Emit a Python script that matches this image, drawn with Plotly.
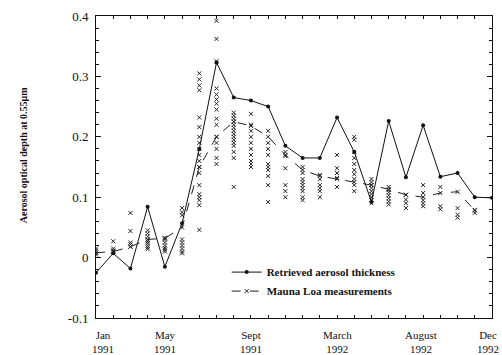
import plotly.graph_objects as go

# Month index 0 = Jan 1991 ... 23 = Dec 1992
months = list(range(24))

retrieved = [-0.025, 0.007, -0.018, 0.084, -0.015, 0.057, 0.18, 0.323, 0.265, 0.26,
             0.25, 0.185, 0.165, 0.165, 0.232, 0.175, 0.092, 0.226, 0.133, 0.219,
             0.134, 0.14, 0.10, 0.099]

mauna_loa_mean_months = list(range(23))
mauna_loa_mean = [0.008, 0.01, 0.018, 0.03, 0.032, 0.05, 0.15, 0.2, 0.225, 0.218,
                  0.2, 0.17, 0.145, 0.135, 0.13, 0.125, 0.12, 0.113, 0.104, 0.1,
                  0.107, 0.109, 0.078]

mauna_loa_points = [
    [0.005, 0.008, 0.012, 0.015],
    [0.027, 0.015, 0.012, 0.01],
    [0.074, 0.044, 0.025, 0.022, 0.018],
    [0.045, 0.04, 0.035, 0.03, 0.027, 0.024, 0.02, 0.017, 0.014],
    [0.033, 0.03, 0.025, 0.02, 0.016, 0.013, 0.01],
    [0.082, 0.075, 0.07, 0.03, 0.025, 0.02, 0.015, 0.01, 0.007],
    [0.305, 0.295, 0.285, 0.277, 0.232, 0.216, 0.2, 0.19, 0.18, 0.17, 0.16, 0.15,
     0.14, 0.12, 0.105, 0.1, 0.095, 0.087, 0.046],
    [0.392, 0.362, 0.325, 0.28, 0.27, 0.262, 0.255, 0.245, 0.23, 0.22, 0.2, 0.19,
     0.18, 0.165, 0.155],
    [0.24, 0.235, 0.23, 0.225, 0.22, 0.215, 0.21, 0.205, 0.2, 0.195, 0.19, 0.185,
     0.175, 0.165, 0.117],
    [0.238, 0.22, 0.21, 0.2, 0.19, 0.18, 0.17, 0.16, 0.155, 0.15],
    [0.21, 0.19, 0.18, 0.17, 0.155, 0.15, 0.145, 0.135, 0.12, 0.092],
    [0.175, 0.168, 0.148, 0.12, 0.11, 0.1],
    [0.15, 0.14, 0.13, 0.125, 0.12, 0.115, 0.11, 0.1, 0.095],
    [0.137, 0.13, 0.12, 0.115, 0.11, 0.1],
    [0.17, 0.148, 0.14, 0.132, 0.117],
    [0.2, 0.195, 0.175, 0.165, 0.155, 0.145, 0.138, 0.13, 0.12, 0.11],
    [0.13, 0.125, 0.12, 0.115, 0.11, 0.105, 0.1, 0.095, 0.09],
    [0.117, 0.112, 0.108, 0.103, 0.098, 0.093, 0.088],
    [0.104, 0.096, 0.09, 0.082],
    [0.12, 0.107, 0.095, 0.09, 0.085],
    [0.117, 0.085, 0.08],
    [0.082, 0.071, 0.066],
    [0.079, 0.074],
]

# label positions in month units
tick_label_pos = [0.4, 4, 9, 14, 18.9, 22.75]
tick_label_text = ["Jan<br>1991", "May<br>1991", "Sept<br>1991", "March<br>1992",
                   "August<br>1992", "Dec<br>1992"]

y_ticks = [-0.1, 0, 0.1, 0.2, 0.3, 0.4]
y_tick_text = ["-0.1", "0", "0.1", "0.2", "0.3", "0.4"]

FONT = "Liberation Serif, Times New Roman, serif"
X_MAX = 23

px, py = [], []
for m, vals in enumerate(mauna_loa_points):
    for v in vals:
        px.append(m)
        py.append(v)

fig = go.Figure()
fig.add_trace(go.Scatter(x=px, y=py, mode="markers", showlegend=False,
                         marker=dict(symbol="x-thin", size=4, line=dict(width=1, color="#222"))))
fig.add_trace(go.Scatter(x=months, y=retrieved, mode="lines+markers",
                         name="Retrieved aerosol thickness",
                         line=dict(color="#111", width=1),
                         marker=dict(symbol="circle", size=4, color="#111")))
fig.add_trace(go.Scatter(x=mauna_loa_mean_months, y=mauna_loa_mean, mode="lines+markers",
                         name="Mauna Loa measurements",
                         line=dict(color="#222", width=1, dash="dash"),
                         marker=dict(symbol="x-thin", size=4, line=dict(width=1, color="#222"))))

for xp, t in zip(tick_label_pos, tick_label_text):
    fig.add_annotation(x=xp / X_MAX, y=-0.03, xref="paper", yref="paper", text=t,
                       showarrow=False, xanchor="center", yanchor="top",
                       font=dict(family=FONT, size=11, color="#111"))

fig.add_annotation(x=-0.2, y=0.54, xref="paper", yref="paper", textangle=-90,
                   text="<b>Aerosol optical depth at 0.55μm</b>", showarrow=False,
                   font=dict(family=FONT, size=10, color="#111"))

fig.update_xaxes(range=[0, X_MAX], tickvals=months, ticktext=[""] * 24, ticks="inside",
                 ticklen=3, tickcolor="#111", showgrid=False, zeroline=False,
                 showline=True, linecolor="#111", linewidth=1, mirror="ticks")
fig.update_yaxes(range=[-0.1, 0.4], tickvals=y_ticks, ticktext=y_tick_text,
                 ticks="inside", ticklen=5, tickcolor="#111", showgrid=False,
                 zeroline=False, showline=True, linecolor="#111", linewidth=1,
                 mirror="ticks", tickfont=dict(family=FONT, size=13, color="#111"),
                 ticklabelstandoff=4,
                 minor=dict(dtick=0.02, ticks="inside", ticklen=3, tickcolor="#111"))

fig.update_layout(width=502, height=355, plot_bgcolor="white", paper_bgcolor="white",
                  margin=dict(l=96, r=9, t=14, b=37),
                  legend=dict(x=0.33, y=0.2, xanchor="left", yanchor="top",
                              bgcolor="rgba(0,0,0,0)", tracegroupgap=2,
                              font=dict(family=FONT, size=11, color="#111", weight="bold")),
                  font=dict(family=FONT, color="#111"))

fig.write_html("out.html")
